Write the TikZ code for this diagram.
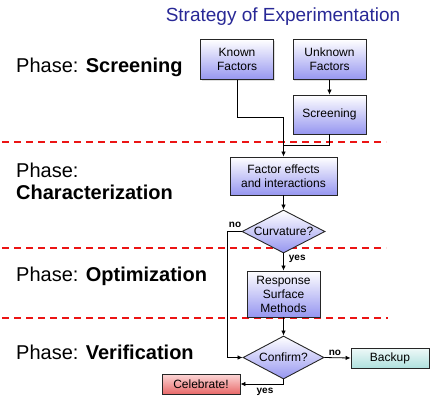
\documentclass[tikz,border=0pt]{standalone}
\usepackage{fontspec}
\setmainfont{Liberation Sans}
\usetikzlibrary{arrows.meta,shapes.geometric,shadows}
\definecolor{titleblue}{RGB}{40,40,150}
\definecolor{boxblue}{RGB}{150,150,240}
\definecolor{boxteal}{RGB}{175,225,222}
\definecolor{boxred}{RGB}{232,105,105}
\definecolor{boxpink}{RGB}{252,215,215}
\definecolor{dashred}{RGB}{235,20,20}
\tikzset{
  box/.style={draw=black!85, line width=0.9pt, rectangle, inner sep=0pt,
    top color=white, bottom color=boxblue, align=center,
    font=\fontsize{12}{14}\selectfont,
    drop shadow={shadow xshift=1.2pt, shadow yshift=-1.2pt, opacity=0.25}},
  dia/.style={draw=black!85, line width=0.9pt, diamond, inner sep=0pt,
    top color=white, bottom color=boxblue,
    font=\fontsize{12}{14}\selectfont},
  arr/.style={-{Latex[length=5pt,width=4.5pt]}, line width=0.8pt},
  conn/.style={line width=0.8pt},
  phase/.style={anchor=base west, inner sep=0pt, font=\fontsize{20}{24}\selectfont},
  sep/.style={dashred, line width=1.8pt, dash pattern=on 7pt off 5pt},
  lbl/.style={font=\bfseries\fontsize{10}{12}\selectfont, inner sep=0pt}
}
\begin{document}
\begin{tikzpicture}[x=1pt,y=-1pt]
\useasboundingbox (0,0) rectangle (430,400);
\node[font=\fontsize{19}{22}\selectfont, text=titleblue, inner sep=0pt] (title) at (283,17) {Strategy of Experimentation};

\node[phase] (p1) at (16,72.7) {Phase: \textbf{Screening}};
\node[phase] (p2a) at (16,177.7) {Phase:};
\node[phase] (p2b) at (16,199.3) {\textbf{Characterization}};
\node[phase] (p3) at (16,281) {Phase: \textbf{Optimization}};
\node[phase] (p4) at (16,359) {Phase: \textbf{Verification}};

\coordinate (d1a) at (2,142); \coordinate (d1b) at (386,142);
\coordinate (d2a) at (2,248); \coordinate (d2b) at (386,248);
\coordinate (d3a) at (2,318); \coordinate (d3b) at (388,318);
\draw[sep] (d1a) -- (d1b);
\draw[sep] (d2a) -- (d2b);
\draw[sep] (d3a) -- (d3b);

\node[box, minimum width=73pt, minimum height=40pt] (known) at (237,59.5) {Known\\Factors};
\node[box, minimum width=73pt, minimum height=40pt] (unknown) at (329.5,59.5) {Unknown\\Factors};
\node[box, minimum width=73pt, minimum height=39pt] (screen) at (329.5,114.5) {Screening};
\node[box, minimum width=107pt, minimum height=38pt] (factor) at (283.5,176) {Factor effects\\and interactions};
\node[dia, minimum width=83pt, minimum height=43pt] (curv) at (283.5,231.5) {\makebox[0pt]{Curvature?}};
\node[box, minimum width=73pt, minimum height=46pt] (rsm) at (283.5,294) {Response\\Surface\\Methods};
\node[dia, minimum width=81pt, minimum height=43pt] (conf) at (283.5,357.5) {\makebox[0pt]{Confirm?}};
\node[box, minimum width=78pt, minimum height=20pt, top color=white!80!boxteal, bottom color=boxteal] (backup) at (390,358) {Backup};
\node[box, minimum width=78pt, minimum height=20pt, top color=boxpink, bottom color=boxred] (celeb) at (201,384) {Celebrate!};

\coordinate (k2) at (283.5,117);
\coordinate (m) at (283.5,145);
\coordinate (nb) at (227,231.5);

\draw[conn] (known.south) |- (k2);
\draw[arr] (k2) -- (factor.north);
\draw[conn] (screen.south) |- (m);
\draw[arr] (unknown.south) -- (screen.north);
\draw[arr] (factor.south) -- (curv.north);
\draw[arr] (curv.south) -- node[lbl, right=5pt, pos=0.3] {yes} (rsm.north);
\draw[arr] (curv.west) -- (nb) |- (conf.west);
\node[lbl] (no1) at (235,224.5) {no};
\draw[arr] (rsm.south) -- (conf.north);
\draw[arr] (conf.east) -- node[lbl, above=2pt, pos=0.4] {no} (backup.west);
\draw[arr] (conf.south) |- (celeb.east);
\node[lbl] (yes2) at (265,392) {yes};
\end{tikzpicture}
\end{document}
